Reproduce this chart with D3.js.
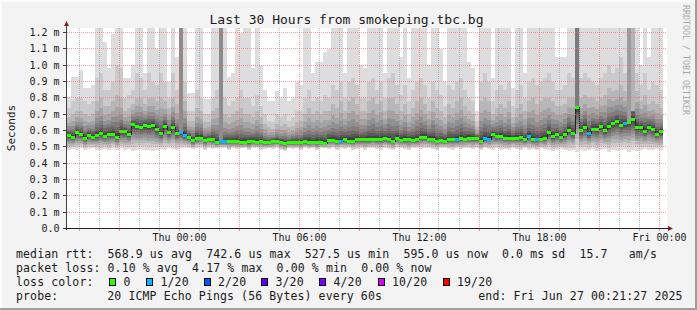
<!DOCTYPE html>
<html>
<head>
<meta charset="utf-8">
<script src="https://cdn.jsdelivr.net/npm/d3@7"></script>
<style>
  html, body { margin: 0; padding: 0; background: #f3f3f3; }
  svg { display: block; font-family: "DejaVu Sans Mono", monospace; }
</style>
</head>
<body>
<div id="chart"></div>
<script>
// ---- data (values in ms, 150 columns of 12 min) ----
const median = [
  0.573,0.561,0.590,0.579,0.555,0.573,0.563,0.573,0.583,0.569,
  0.580,0.580,0.561,0.594,0.594,0.579,0.637,0.628,0.622,0.632,
  0.626,0.632,0.608,0.583,0.628,0.588,0.622,0.585,0.588,0.573,
  0.561,0.540,0.557,0.557,0.543,0.549,0.549,0.528,0.536,0.536,
  0.536,0.534,0.536,0.528,0.532,0.534,0.536,0.530,0.538,0.528,
  0.528,0.538,0.538,0.532,0.524,0.528,0.530,0.528,0.530,0.534,
  0.528,0.530,0.532,0.532,0.526,0.543,0.541,0.538,0.538,0.547,
  0.538,0.538,0.547,0.545,0.547,0.547,0.549,0.547,0.549,0.555,
  0.549,0.536,0.557,0.543,0.549,0.545,0.543,0.545,0.561,0.561,
  0.551,0.551,0.538,0.541,0.538,0.545,0.547,0.545,0.553,0.549,
  0.557,0.557,0.555,0.536,0.553,0.551,0.581,0.565,0.569,0.555,
  0.557,0.557,0.557,0.559,0.545,0.567,0.547,0.545,0.551,0.553,
  0.588,0.565,0.576,0.559,0.578,0.606,0.585,0.743,0.602,0.624,
  0.585,0.612,0.612,0.628,0.602,0.626,0.643,0.657,0.635,0.643,
  0.655,0.669,0.620,0.620,0.600,0.622,0.608,0.581,0.596,null
];
// columns with 1/20 packet loss
const lossCols = [28,29,38,39,68,97,104,105,115,117,130,139];

// smoke: highest ping, 2nd and 3rd band tops, lowest ping
const pingMax = [
  0.80,0.93,0.93,0.97,0.86,0.86,0.88,1.25,1.25,1.14,
  0.98,1.19,1.25,1.25,0.92,0.92,1.00,1.25,1.25,0.95,
  1.25,1.25,1.10,1.25,1.25,0.90,1.25,1.05,1.25,1.25,
  0.83,0.83,1.25,1.25,0.79,0.79,1.25,1.25,1.25,1.25,
  0.93,0.95,1.25,1.20,1.25,1.25,0.98,1.25,1.00,0.85,
  0.78,0.78,0.84,0.80,0.86,0.78,0.80,0.90,0.88,1.25,
  1.25,0.95,1.02,1.02,1.08,1.10,1.25,1.25,1.25,0.95,
  1.25,1.25,1.25,1.00,0.98,1.25,1.25,1.25,1.25,0.95,
  1.25,1.25,1.25,1.05,1.25,0.92,1.25,1.25,1.25,1.25,
  1.00,1.25,1.25,1.10,0.90,1.25,1.25,1.25,1.25,1.25,
  1.02,0.98,0.72,1.25,1.25,1.25,0.92,1.25,1.25,1.25,
  1.25,0.86,1.25,1.25,0.95,1.25,1.25,1.25,1.25,1.25,
  1.25,1.25,1.05,1.05,1.05,1.25,1.25,1.25,1.25,1.25,
  1.25,1.25,1.25,1.25,1.25,1.25,1.25,1.25,1.25,1.25,
  1.25,1.25,1.25,1.00,1.25,1.05,1.25,1.25,1.25,null
];
const band2Top = [
  0.74,0.78,0.80,0.80,0.78,0.76,0.78,0.92,0.95,0.85,
  0.85,0.90,1.00,0.98,0.80,0.82,0.85,0.95,0.92,0.85,
  0.95,0.90,0.88,0.95,0.90,0.80,0.95,0.85,0.90,0.90,
  0.72,0.72,0.85,0.80,0.70,0.70,0.80,0.85,0.85,0.80,
  0.75,0.78,0.80,0.85,0.80,0.80,0.75,0.82,0.75,0.70,
  0.66,0.65,0.70,0.68,0.70,0.66,0.68,0.72,0.72,0.80,
  0.85,0.78,0.80,0.78,0.82,0.80,0.88,0.85,0.90,0.80,
  0.90,0.92,0.88,0.80,0.80,0.90,0.92,0.85,0.90,0.80,
  0.92,0.95,0.88,0.82,0.88,0.78,0.85,0.90,0.92,0.88,
  0.80,0.90,0.85,0.82,0.75,0.88,0.85,0.90,0.92,0.85,
  0.80,0.78,0.66,0.90,0.95,0.90,0.78,0.85,0.88,0.85,
  0.90,0.75,0.85,0.88,0.80,0.90,0.92,0.88,0.90,0.92,
  0.95,0.90,0.85,0.85,0.88,0.95,0.92,0.95,0.92,0.95,
  0.92,0.90,0.88,0.92,0.95,1.00,0.95,0.98,1.05,0.95,
  1.10,1.10,0.95,0.88,0.95,0.85,0.90,0.88,0.85,null
];
const band3Top = [
  0.68,0.70,0.72,0.72,0.70,0.69,0.70,0.78,0.80,0.75,
  0.75,0.78,0.82,0.80,0.72,0.74,0.76,0.80,0.80,0.76,
  0.80,0.80,0.78,0.80,0.78,0.74,0.80,0.76,0.78,0.78,
  0.66,0.66,0.74,0.72,0.65,0.65,0.72,0.74,0.74,0.70,
  0.68,0.70,0.72,0.74,0.70,0.70,0.68,0.72,0.68,0.64,
  0.62,0.61,0.64,0.63,0.64,0.62,0.63,0.65,0.66,0.70,
  0.74,0.70,0.72,0.70,0.72,0.72,0.76,0.74,0.78,0.72,
  0.78,0.80,0.76,0.72,0.72,0.78,0.80,0.76,0.78,0.72,
  0.80,0.80,0.76,0.72,0.76,0.70,0.74,0.78,0.80,0.76,
  0.72,0.78,0.74,0.72,0.68,0.76,0.74,0.78,0.80,0.75,
  0.72,0.70,0.62,0.78,0.80,0.78,0.70,0.74,0.76,0.74,
  0.78,0.68,0.74,0.76,0.72,0.78,0.80,0.76,0.78,0.80,
  0.80,0.78,0.75,0.75,0.76,0.80,0.80,0.85,0.80,0.82,
  0.80,0.80,0.78,0.80,0.82,0.86,0.84,0.85,0.88,0.84,
  0.95,0.95,0.84,0.78,0.82,0.76,0.78,0.76,0.74,null
];
const pingMin = [
  0.480,0.485,0.480,0.490,0.480,0.485,0.490,0.480,0.480,0.485,
  0.480,0.490,0.480,0.490,0.480,0.485,0.475,0.480,0.485,0.480,
  0.480,0.475,0.480,0.485,0.480,0.490,0.485,0.480,0.490,0.490,
  0.490,0.485,0.490,0.495,0.480,0.490,0.485,0.490,0.490,0.490,
  0.480,0.490,0.485,0.490,0.490,0.480,0.490,0.490,0.480,0.485,
  0.490,0.485,0.490,0.480,0.475,0.490,0.485,0.490,0.480,0.490,
  0.485,0.490,0.480,0.490,0.490,0.485,0.490,0.480,0.490,0.485,
  0.490,0.480,0.485,0.490,0.480,0.490,0.490,0.485,0.480,0.490,
  0.485,0.480,0.490,0.490,0.485,0.480,0.490,0.490,0.485,0.490,
  0.490,0.485,0.480,0.490,0.490,0.485,0.480,0.490,0.485,0.490,
  0.490,0.485,0.490,0.480,0.490,0.485,0.480,0.490,0.480,0.485,
  0.480,0.490,0.485,0.480,0.490,0.480,0.485,0.480,0.490,0.485,
  0.480,0.475,0.480,0.485,0.480,0.475,0.480,0.470,0.480,0.475,
  0.480,0.485,0.475,0.480,0.485,0.470,0.480,0.475,0.480,0.485,
  0.470,0.480,0.475,0.480,0.485,0.480,0.480,0.485,0.480,null
];
// columns where several pings run off the top
const darkCols  = [28, 38, 127, 140, 141];
const darkFrom  = [0.59, 0.54, 0.75, 0.66, 0.72];
const darkShade = ['#8c8c8c', '#8c8c8c', '#7a7a7a', '#9c9c9c', '#b4b4b4'];

const yTicks = [0,0.1,0.2,0.3,0.4,0.5,0.6,0.7,0.8,0.9,1.0,1.1,1.2];
const yTickLabels = ['0.0','0.1 m','0.2 m','0.3 m','0.4 m','0.5 m','0.6 m','0.7 m','0.8 m','0.9 m','1.0 m','1.1 m','1.2 m'];

const lossLabels = ['0','1/20','2/20','3/20','4/20','10/20','19/20'];
const lossColors = ['#26ff00','#00b8ff','#0059ff','#5e00ff','#7e00ff','#dd00ff','#ff0000'];
const lossBoxX   = [109, 146, 203.5, 261, 319, 377.5, 442.5];

const legendLines = [
  'median rtt:  568.9 us avg  742.6 us max  527.5 us min  595.0 us now  0.0 ms sd  15.7   am/s',
  'packet loss: 0.10 % avg  4.17 % max  0.00 % min  0.00 % now'
];
const probeText = '20 ICMP Echo Pings (56 Bytes) every 60s';
const endText = 'end: Fri Jun 27 00:21:27 2025';

// ---- layout ----
const W = 697, H = 310;
const plot = { left: 67, right: 667, top: 28, bottom: 228 };

const svg = d3.select('#chart').append('svg')
  .attr('width', W).attr('height', H);

svg.append('rect').attr('width', W).attr('height', H).attr('fill', '#f3f3f3');
// 3d-ish frame
svg.append('rect').attr('x', 0).attr('y', 0).attr('width', W).attr('height', 2).attr('fill', '#fcfcfc');
svg.append('rect').attr('x', 0).attr('y', 0).attr('width', 2).attr('height', H).attr('fill', '#fcfcfc');
svg.append('rect').attr('x', 0).attr('y', H - 2).attr('width', W).attr('height', 2).attr('fill', '#9e9e9e');
svg.append('rect').attr('x', W - 2).attr('y', 0).attr('width', 2).attr('height', H).attr('fill', '#9e9e9e');

const colX = d3.scaleLinear().domain([0, 150]).range([plot.left, plot.right]);
const y = d3.scaleLinear().domain([0, 1.2]).range([228.5, 32.5]);
const yMax = y.invert(plot.top);
const x = d3.scaleTime()
  .domain([new Date(2025, 5, 25, 18, 25, 30), new Date(2025, 5, 27, 0, 25, 30)])
  .range([plot.left, plot.right]);

svg.append('defs').append('clipPath').attr('id', 'clip')
  .append('rect')
  .attr('x', plot.left).attr('y', plot.top)
  .attr('width', plot.right - plot.left).attr('height', plot.bottom - plot.top);

svg.append('rect')
  .attr('x', plot.left).attr('y', plot.top)
  .attr('width', plot.right - plot.left).attr('height', plot.bottom - plot.top)
  .attr('fill', '#ffffff');

const gPlot = svg.append('g').attr('clip-path', 'url(#clip)');

// ---- smoke ----
const shades = [221, 202, 183, 164, 145, 126, 107, 88, 69, 50];
const upFrac = [0.70, 0.50, 0.35, 0.24, 0.15, 0.08, 0.03];
const dnFrac = [0.85, 0.72, 0.60, 0.48, 0.37, 0.27, 0.18, 0.10, 0.04];

const cols = d3.range(150).filter(i => median[i] != null);

function bandTop(i, k) {
  if (k === 0) return pingMax[i];
  if (k === 1) return band2Top[i];
  if (k === 2) return band3Top[i];
  return median[i] + (band3Top[i] - median[i]) * upFrac[k - 3];
}
function bandBottom(i, k) {
  if (k === 0) return pingMin[i];
  return median[i] - (median[i] - pingMin[i]) * dnFrac[k - 1];
}
const py = v => Math.round(y(Math.min(v, yMax + 0.02)));

shades.forEach((s, k) => {
  gPlot.append('g').selectAll('rect')
    .data(cols)
    .join('rect')
    .attr('x', i => colX(i))
    .attr('width', 4)
    .attr('y', i => py(bandTop(i, k)))
    .attr('height', i => Math.max(0, py(bandBottom(i, k)) - py(bandTop(i, k))))
    .attr('fill', d3.rgb(s, s, s))
    .attr('shape-rendering', 'crispEdges');
});

gPlot.append('g').selectAll('rect')
  .data(darkCols)
  .join('rect')
  .attr('x', i => colX(i))
  .attr('width', 4)
  .attr('y', plot.top)
  .attr('height', (i, j) => py(darkFrom[j]) - plot.top)
  .attr('fill', (i, j) => darkShade[j])
  .attr('shape-rendering', 'crispEdges');

// ---- median ----
const stepPts = [];
cols.forEach(i => {
  stepPts.push([colX(i), py(median[i]) + 0.5]);
});
const lastCol = cols[cols.length - 1];
stepPts.push([colX(lastCol + 1), py(median[lastCol]) + 0.5]);
gPlot.append('path')
  .attr('d', d3.line().curve(d3.curveStepAfter)(stepPts))
  .attr('fill', 'none')
  .attr('stroke', '#202020')
  .attr('stroke-width', 1)
  .attr('shape-rendering', 'crispEdges');

gPlot.append('g').selectAll('rect')
  .data(cols)
  .join('rect')
  .attr('x', i => colX(i))
  .attr('width', 4)
  .attr('y', i => py(median[i]) - 1)
  .attr('height', 3)
  .attr('fill', i => lossCols.includes(i) ? lossColors[1] : lossColors[0])
  .attr('shape-rendering', 'crispEdges');

// ---- grid ----
const grid = svg.append('g').attr('shape-rendering', 'crispEdges');
const hours = x.ticks(d3.timeHour.every(1));
grid.selectAll('line.vmin')
  .data(hours.filter(d => d.getHours() % 3 !== 0))
  .join('line')
  .attr('x1', d => Math.round(x(d)) + 0.5).attr('x2', d => Math.round(x(d)) + 0.5)
  .attr('y1', plot.top).attr('y2', plot.bottom)
  .attr('stroke', 'rgba(140,140,140,0.55)')
  .attr('stroke-dasharray', '1,1');
grid.selectAll('line.vmaj')
  .data(hours.filter(d => d.getHours() % 3 === 0))
  .join('line')
  .attr('x1', d => Math.round(x(d)) + 0.5).attr('x2', d => Math.round(x(d)) + 0.5)
  .attr('y1', plot.top).attr('y2', plot.bottom)
  .attr('stroke', 'rgba(255,94,94,0.6)')
  .attr('stroke-dasharray', '1,1');
grid.selectAll('line.h')
  .data(yTicks.slice(1))
  .join('line')
  .attr('x1', plot.left).attr('x2', plot.right)
  .attr('y1', d => Math.floor(y(d)) + 0.5).attr('y2', d => Math.floor(y(d)) + 0.5)
  .attr('stroke', 'rgba(255,94,94,0.6)')
  .attr('stroke-dasharray', '1,1');

// x ticks below the axis
grid.selectAll('line.xt')
  .data(hours)
  .join('line')
  .attr('x1', d => Math.round(x(d)) + 0.5).attr('x2', d => Math.round(x(d)) + 0.5)
  .attr('y1', plot.bottom).attr('y2', plot.bottom + 3)
  .attr('stroke', d => d.getHours() % 3 === 0 ? 'rgba(255,94,94,0.8)' : 'rgba(140,140,140,0.6)');
// y ticks left of the axis
grid.selectAll('line.yt')
  .data(yTicks)
  .join('line')
  .attr('x1', plot.left - 4).attr('x2', plot.left)
  .attr('y1', d => Math.floor(y(d)) + 0.5).attr('y2', d => Math.floor(y(d)) + 0.5)
  .attr('stroke', '#404040');

// ---- axes ----
svg.append('line')
  .attr('x1', plot.left - 0.5).attr('x2', plot.left - 0.5)
  .attr('y1', plot.bottom + 2).attr('y2', 24)
  .attr('stroke', '#404040').attr('shape-rendering', 'crispEdges');
svg.append('line')
  .attr('x1', plot.left - 3).attr('x2', plot.right + 2)
  .attr('y1', plot.bottom + 0.5).attr('y2', plot.bottom + 0.5)
  .attr('stroke', '#202020').attr('shape-rendering', 'crispEdges');
svg.append('path')
  .attr('d', `M${plot.left - 3},26 L${plot.left + 2},26 L${plot.left - 0.5},21 Z`)
  .attr('fill', '#8a1c1c');
svg.append('path')
  .attr('d', `M${plot.right + 1},${plot.bottom - 2} L${plot.right + 1},${plot.bottom + 3} L${plot.right + 6},${plot.bottom + 0.5} Z`)
  .attr('fill', '#8a1c1c');

// ---- labels ----
svg.append('g').selectAll('text')
  .data(yTicks)
  .join('text')
  .attr('x', 59.5)
  .attr('y', d => Math.floor(y(d)) + 4)
  .attr('text-anchor', 'end')
  .attr('font-size', '10px')
  .attr('fill', '#1a1a1a')
  .text((d, j) => yTickLabels[j]);

const fmtTick = d3.timeFormat('%a %H:%M');
svg.append('g').selectAll('text')
  .data(x.ticks(d3.timeHour.every(6)))
  .join('text')
  .attr('x', d => Math.round(x(d)) + 0.5)
  .attr('y', 241)
  .attr('text-anchor', 'middle')
  .attr('font-size', '10px')
  .attr('fill', '#1a1a1a')
  .text(d => fmtTick(d));

svg.append('text')
  .attr('x', 346.5).attr('y', 24)
  .attr('text-anchor', 'middle')
  .attr('font-size', '13px')
  .attr('fill', '#1a1a1a')
  .text('Last 30 Hours from smokeping.tbc.bg');

svg.append('text')
  .attr('transform', 'translate(15,128) rotate(-90)')
  .attr('text-anchor', 'middle')
  .attr('font-size', '11px')
  .attr('fill', '#1a1a1a')
  .text('Seconds');

svg.append('text')
  .attr('transform', 'translate(683,5) rotate(90)')
  .attr('font-size', '8.3px')
  .attr('fill', '#a8a8a8')
  .text('RRDTOOL / TOBI OETIKER');

// ---- legend ----
const leg = svg.append('g')
  .attr('font-size', '11.5px')
  .attr('letter-spacing', '0.12px')
  .attr('fill', '#1a1a1a')
  .style('white-space', 'pre');

legendLines.forEach((t, j) => {
  leg.append('text').attr('x', 16).attr('y', 258 + j * 14).attr('xml:space', 'preserve').text(t);
});
leg.append('text').attr('x', 16).attr('y', 286).text('loss color:');
lossLabels.forEach((t, j) => {
  leg.append('rect')
    .attr('x', lossBoxX[j] + 0.5).attr('y', 278.5)
    .attr('width', 6).attr('height', 7)
    .attr('fill', lossColors[j])
    .attr('stroke', '#000').attr('stroke-width', 1)
    .attr('shape-rendering', 'crispEdges');
  leg.append('text').attr('x', lossBoxX[j] + 14.5).attr('y', 286).text(t);
});
leg.append('text').attr('x', 16).attr('y', 300).text('probe:');
leg.append('text').attr('x', 107.3).attr('y', 300).text(probeText);
leg.append('text').attr('x', 478.3).attr('y', 300).text(endText);
</script>
</body>
</html>
